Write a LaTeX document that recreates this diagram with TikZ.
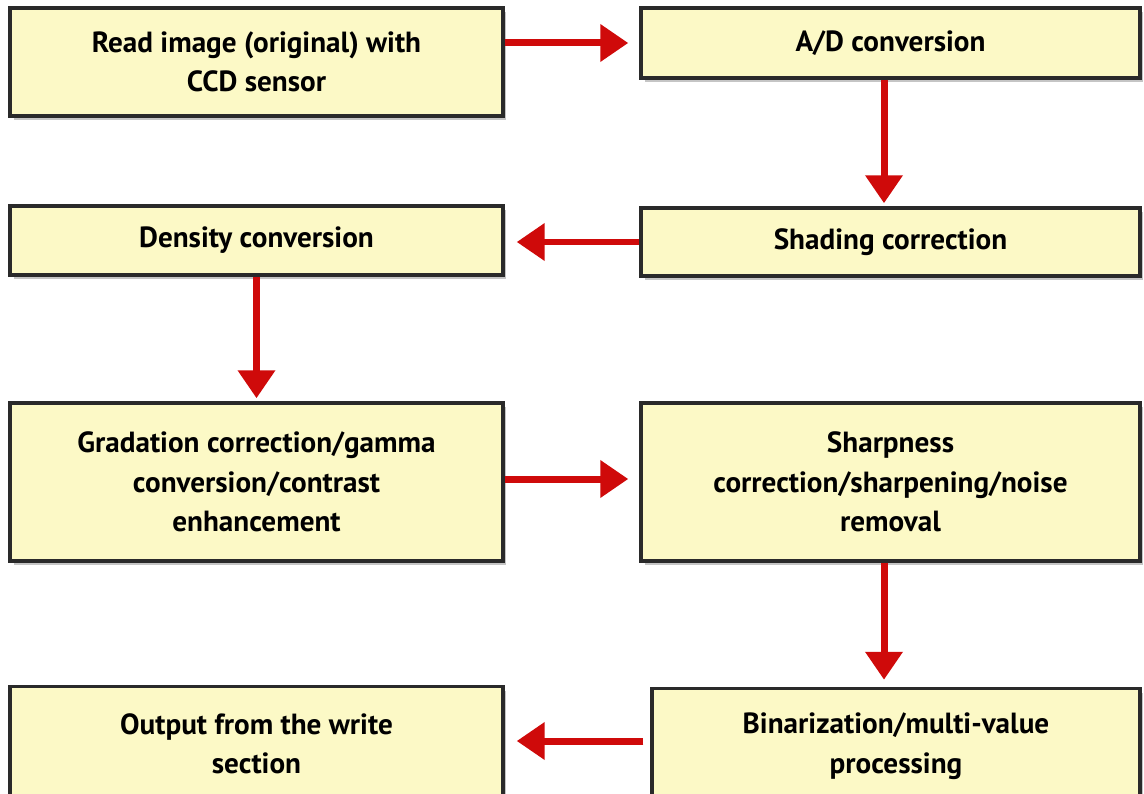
\documentclass[tikz,border=0pt]{standalone}
\usepackage{fontspec}
\setmainfont{PT Sans}
\usetikzlibrary{arrows.meta,positioning,calc,shadows}
\definecolor{bFill}{HTML}{FCF9C6}
\definecolor{bLine}{HTML}{2A2A2A}
\definecolor{fRed}{HTML}{CF0A0A}
\tikzset{
  >={Triangle[length=0.56cm,width=0.72cm]},
  proc/.style ={rectangle,draw=bLine,line width=2pt,fill=bFill,align=center,
                font=\fontsize{16.6}{22.5}\selectfont\bfseries,inner sep=2pt,
                drop shadow={shadow xshift=0.07cm,shadow yshift=-0.08cm,opacity=0.45,fill=gray}},
  flow/.style ={->,fRed,line width=0.14cm},
}
\begin{document}
\begin{tikzpicture}[x=0.02cm,y=-0.02cm]
  \useasboundingbox (0,0) rectangle (1144,794);
  \clip (0,0) rectangle (1144,794);
  \fill[white] (0,0) rectangle (1144,794);

  % ---- left column ----
  \node[proc,minimum width=9.86cm,minimum height=2.16cm] (read) at (256.5,62)
        {Read image (original) with\\CCD sensor};
  \node[proc,minimum width=9.86cm,minimum height=1.38cm] (dens) at (256.5,240.5)
        {Density conversion};
  \node[proc,minimum width=9.86cm,minimum height=3.16cm] (grad) at (256.5,482)
        {Gradation correction/gamma\\conversion/contrast\\enhancement};
  \node[proc,minimum width=9.86cm,minimum height=2.3cm] (outp) at (256.5,744)
        {Output from the write\\section};

  % ---- right column ----
  \node[proc,minimum width=9.98cm,minimum height=1.40cm] (ad) at (890.5,43)
        {A/D conversion};
  \node[proc,minimum width=9.98cm,minimum height=1.36cm] (shade) at (890.5,242)
        {Shading correction};
  \node[proc,minimum width=9.98cm,minimum height=3.16cm] (sharp) at (890.5,482)
        {Sharpness\\correction/sharpening/noise\\removal};
  \node[proc,minimum width=9.76cm,minimum height=2.3cm] (bin) at (896,746)
        {Binarization/multi-value\\processing};
  \coordinate (binl) at ([xshift=-0.14cm,yshift=0.1cm]bin.west);

  % arrows
  \draw[flow,shorten >=0.22cm] (read.east |- ad.west) -- (ad.west);
  \draw[flow,shorten >=0.06cm] ([xshift=-0.13cm]ad.south) -- ([xshift=-0.13cm]shade.north);
  \draw[flow,shorten >=0.24cm] (shade.west) -- (shade.west -| dens.east);
  \draw[flow,shorten >=0.06cm] (dens.south) -- (grad.north);
  \draw[flow,shorten >=0.22cm] ([yshift=0.06cm]grad.east) -- ([yshift=0.06cm]grad.east -| sharp.west);
  \draw[flow,shorten >=0.14cm] ([xshift=-0.13cm]sharp.south) -- ([xshift=-0.13cm]sharp.south |- bin.north);
  \draw[flow,shorten >=0.24cm] (binl) -- (binl -| outp.east);
\end{tikzpicture}
\end{document}
